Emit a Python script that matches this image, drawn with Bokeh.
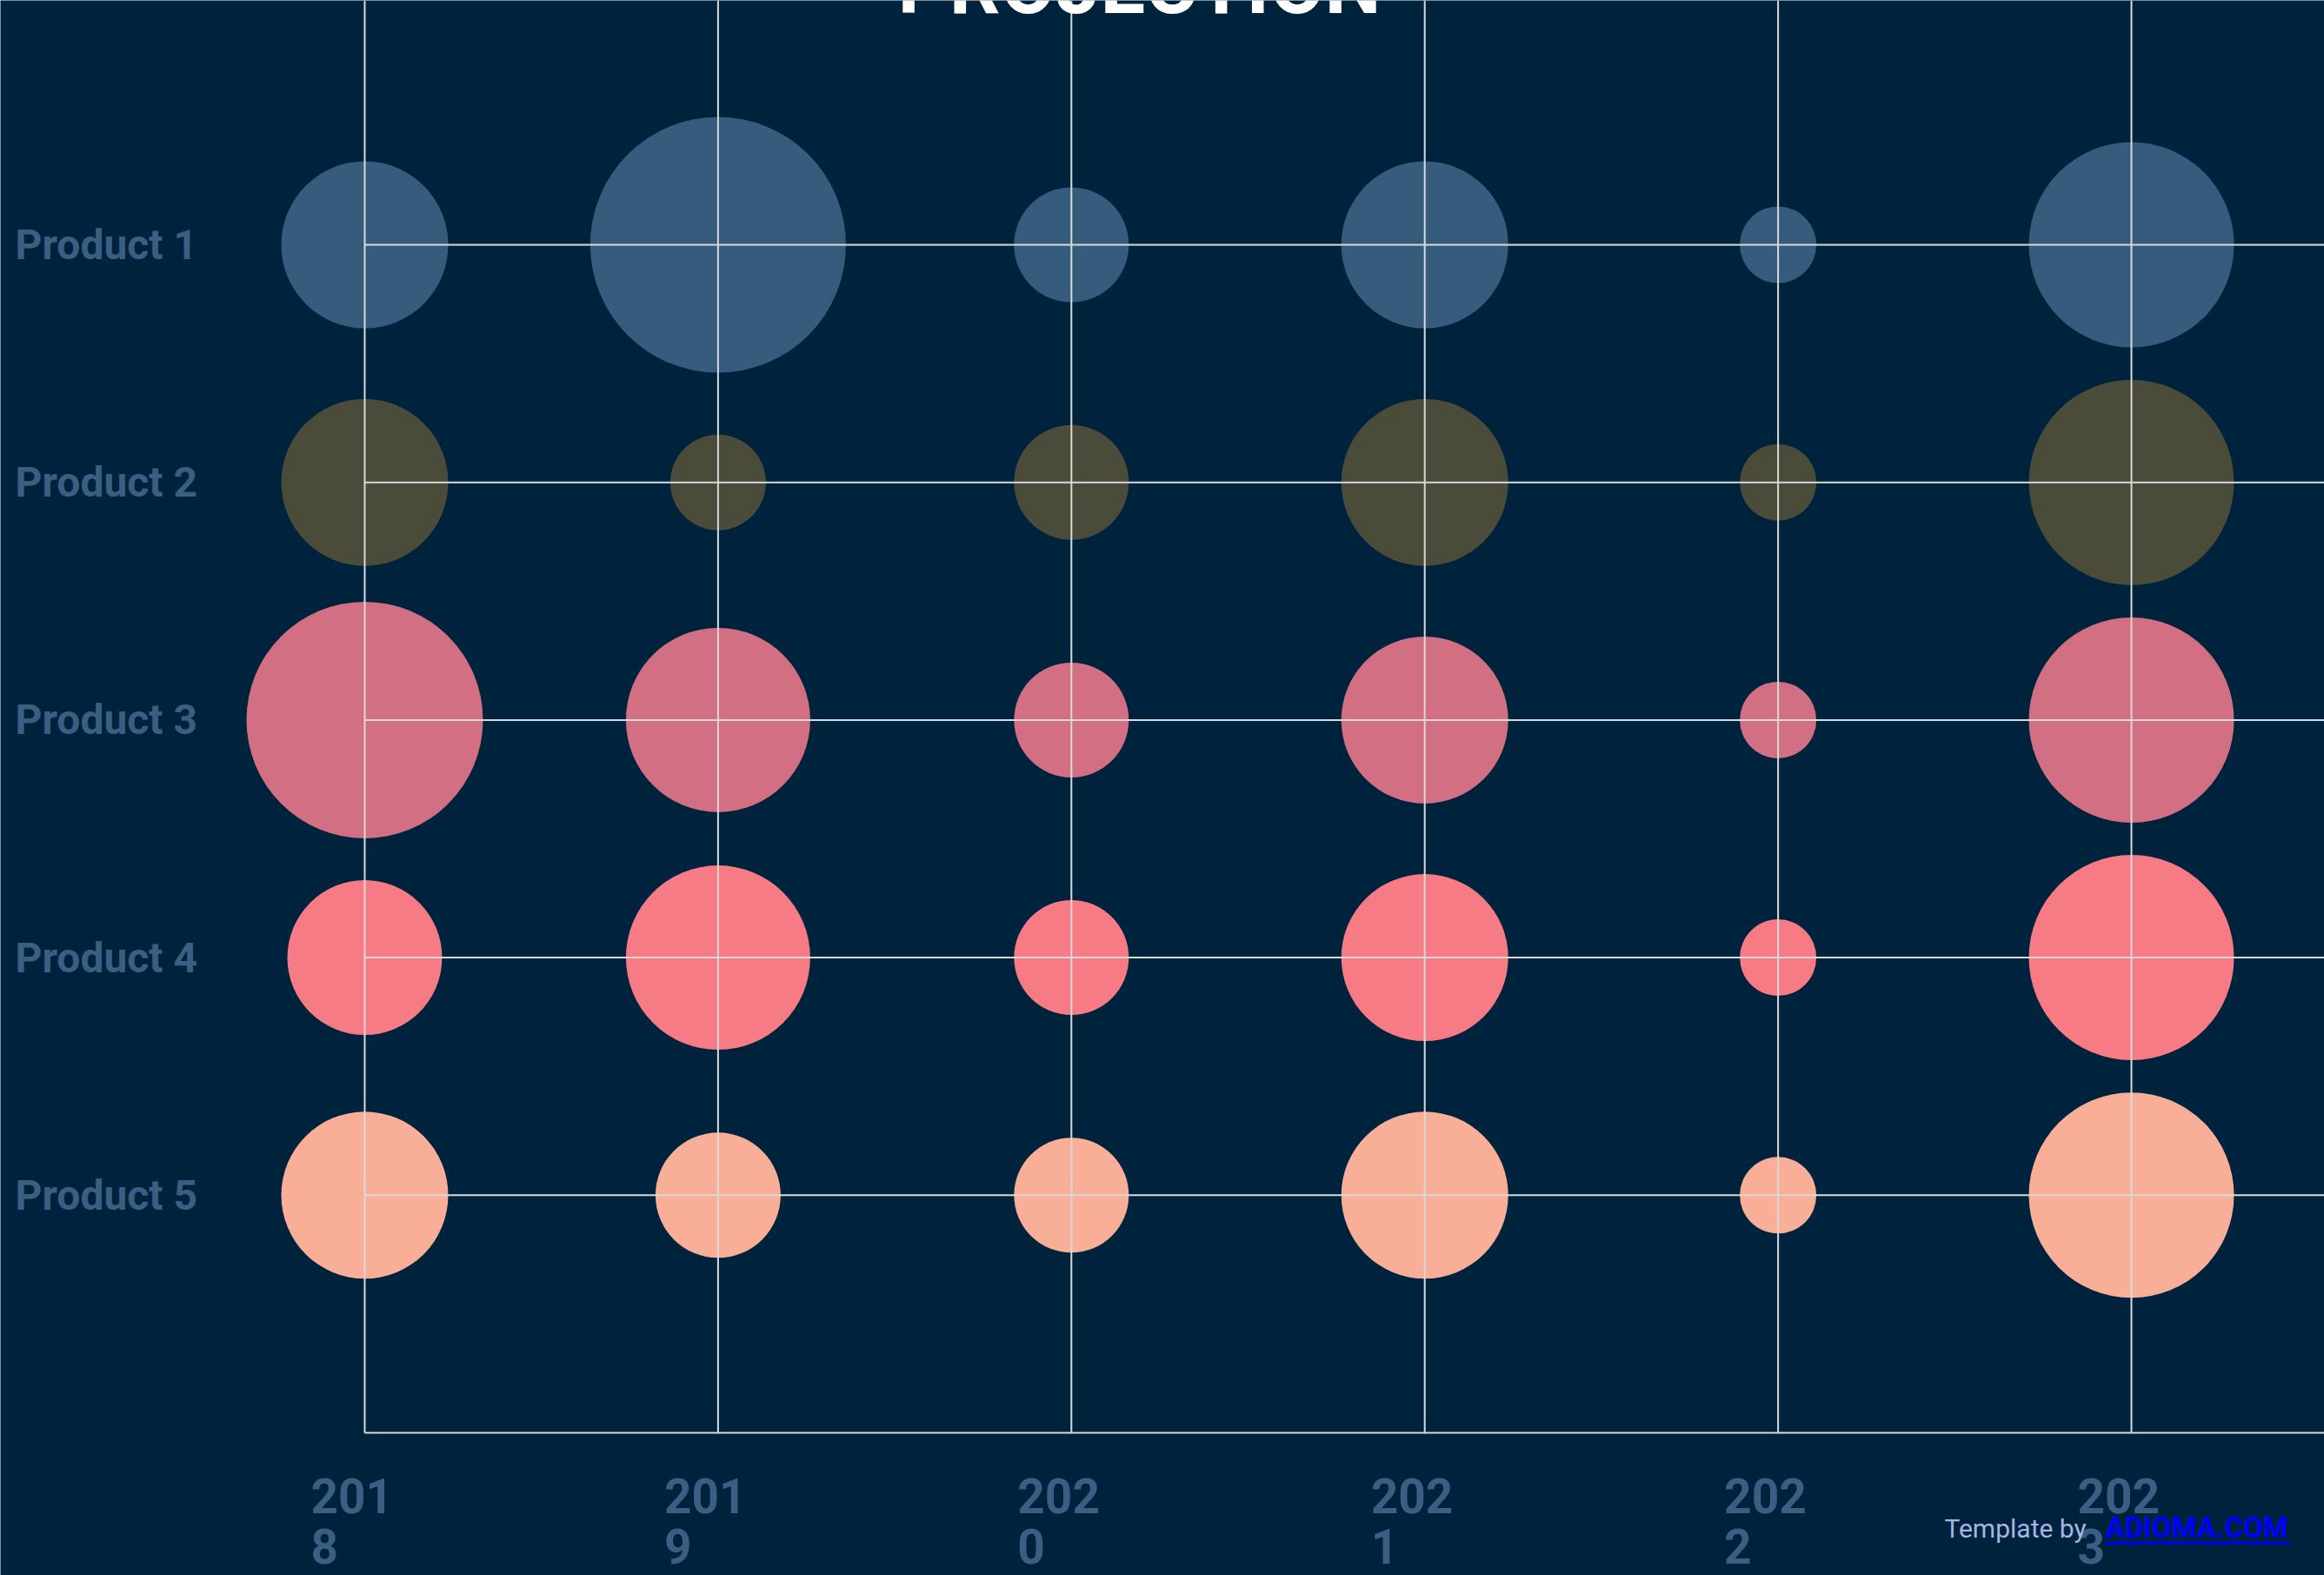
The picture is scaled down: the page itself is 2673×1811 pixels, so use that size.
from bokeh.plotting import figure
from bokeh.models import Range1d, ColumnDataSource
from bokeh.core.properties import value
from bokeh.embed import file_html
from bokeh.resources import INLINE

# ---------------- data ----------------
years = ["2018", "2019", "2020", "2021", "2022", "2023"]
products = ["Product 1", "Product 2", "Product 3", "Product 4", "Product 5"]
product_1 = [96, 147, 66, 96, 44, 118]
product_2 = [96, 55, 66, 96, 44, 118]
product_3 = [136, 106, 66, 96, 44, 118]
product_4 = [89, 106, 66, 96, 44, 118]
product_5 = [96, 72, 66, 96, 44, 118]
series = [product_1, product_2, product_3, product_4, product_5]
colors = ["#365c7d", "#4a4b38", "#d26f82", "#f67b84", "#f9ae97"]
title_text = "PROJECTION"

# ---------------- layout ----------------
BG = "#00233d"
GRID = "#d9d9d9"
LABEL = "#3a5f82"
W, H = 2673, 1811
X0_PX, DX = 419.0, 406.4      # canvas x of first year, px per year
Y0_PX, DY = 1647.0, 273.2     # canvas y of baseline row, px per row

x_start = -X0_PX / DX
x_end = (W - X0_PX) / DX
y_top = Y0_PX / DY
y_bottom = -(H - Y0_PX) / DY


def px_x(px):
    return x_start + px / DX


def px_y(py):
    return y_top - py / DY


p = figure(width=W, height=H, output_backend="svg", toolbar_location=None,
           x_range=Range1d(x_start, x_end), y_range=Range1d(y_bottom, y_top),
           x_axis_type=None, y_axis_type=None, min_border=0,
           background_fill_color=BG, border_fill_color=BG,
           outline_line_color=None)
p.xgrid.visible = False
p.ygrid.visible = False

n_rows = len(products)
# bubbles
for r, (vals, col) in enumerate(zip(series, colors)):
    yrow = n_rows - r
    src = ColumnDataSource(dict(x=list(range(len(years))), y=[yrow] * len(years),
                                size=[2 * v for v in vals]))
    p.scatter("x", "y", size="size", source=src, fill_color=col,
              line_color=None, marker="circle")

# grid lines drawn on top of bubbles
vx = list(range(len(years)))
p.segment(x0=vx, y0=[0] * len(vx), x1=vx, y1=[y_top] * len(vx),
          line_color=GRID, line_width=2)
hy = list(range(0, n_rows + 1))
p.segment(x0=[0] * len(hy), y0=hy, x1=[x_end] * len(hy), y1=hy,
          line_color=GRID, line_width=2)

# product labels
p.text(x=[x_start] * n_rows, y=[n_rows - i for i in range(n_rows)], text=products,
       x_offset=17, text_align="left", text_baseline="middle",
       text_font=value("Roboto"), text_font_style="bold",
       text_font_size="48px", text_color=LABEL)

# year labels (wrapped as in the reference)
wrapped = [y[:3] + "\n" + y[3:] for y in years]
p.text(x=vx, y=[px_y(1688)] * len(vx), text=wrapped,
       x_offset=-62, text_align="left", text_baseline="top",
       text_font=value("Roboto"), text_font_style="bold",
       text_font_size="55px", text_line_height=0.92, text_color=LABEL)

# title (cut off at top edge)
p.text(x=[px_x(1310)], y=[px_y(2)], text=[title_text], y_offset=-19,
       text_align="center", text_baseline="alphabetic",
       text_font=value("Roboto"), text_font_style="bold",
       text_font_size="92px", text_color="white")

# footer
p.text(x=[px_x(2236)], y=[px_y(1757)], text=["Template by"],
       text_align="left", text_baseline="alphabetic",
       text_font=value("Roboto"), text_font_size="30px", text_color="#a9b4e4")
p.text(x=[px_x(2421)], y=[px_y(1756)], text=["ADIOMA.COM"],
       text_align="left", text_baseline="alphabetic",
       text_font=value("Roboto"), text_font_style="bold",
       text_font_size="33px", text_color="#0000ff")
p.segment(x0=[px_x(2421)], y0=[px_y(1774)], x1=[px_x(2634)], y1=[px_y(1774)],
          line_color="#0000ff", line_width=3)

html = file_html(p, INLINE)
html = html.replace("<body>", '<body style="background-color:%s;">' % BG, 1)
open("out.html", "w").write(html)
